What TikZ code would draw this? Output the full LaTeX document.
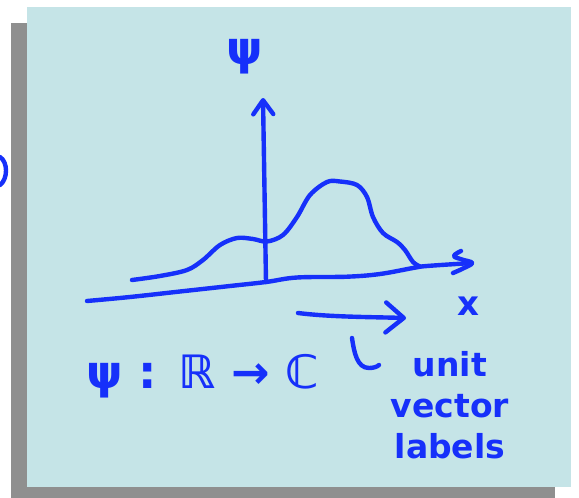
\documentclass[tikz,border=0pt]{standalone}
\usepackage{fontspec}
\usepackage{tikz}
\usetikzlibrary{arrows.meta,positioning}
\newfontfamily\penfont{DejaVu Sans}
\definecolor{penblue}   {RGB}{ 22, 48,250}
\definecolor{sheetcyan} {RGB}{197,228,231}
\definecolor{sheetshade}{RGB}{143,143,143}
\tikzset{
  ink/.style={draw=penblue,line width=4.4pt,line cap=round,line join=round},
  inkarr/.style={ink,-{Straight Barb[length=14pt,width=20pt,round]}},
  inkarrbig/.style={ink,-{Straight Barb[length=18pt,width=30pt,round]}},
  inklbl/.style={text=penblue,inner sep=0pt},
}

\begin{document}
\begin{tikzpicture}[x=1pt,y=-1pt]
\useasboundingbox (0,0) rectangle (579,498);
\fill[sheetshade] (11,23) rectangle (555,498);
\fill[sheetcyan] (27,7) rectangle (571,487);

\coordinate (origin) at (266,282);
\coordinate (psitop) at (263,98);
\coordinate (xstart) at (87,301);
\coordinate (xend)   at (472,263);
\coordinate (ustart) at (298,313);
\coordinate (uend)   at (406,318);

\draw[ink] (0,157) .. controls (8,162) and (8,179) .. (0,185);

% axes
\draw[inkarr] (origin) -- (psitop);
\draw[ink] plot[smooth,tension=0.6] coordinates {(xstart) (130,297) (180,291.5)
  (230,286) (origin) (297,277.5) (347,276.7) (380,274) (413,268) (427,266) (xend)};
\draw[ink] plot[smooth,tension=0.7] coordinates {(461,251) (454,256) (462,259.5)
  (xend) (463,268.5) (453,273)};

% wave
\draw[ink] plot[smooth,tension=0.55] coordinates {(132,280) (160,276) (187,270)
  (203,260) (220,245) (237,238) (253,239) (267,241.5) (283,235) (297,217)
  (310,195) (327,182) (340,181.5) (357,185) (367,197) (373,217) (383,233)
  (397,242) (405,250) (413,262) (420,266.5)};

% unit vector
\draw[inkarrbig] (ustart) .. controls (330,317) and (370,317) .. (uend);
\draw[ink] (352,338) .. controls (354,352) and (357,368) .. (369,368)
  .. controls (373,368) and (377,367) .. (379,365);

\node[inklbl,font=\penfont\bfseries\fontsize{46}{54}\selectfont] (psilbl) at (245,57) {ψ};
\node[inklbl,font=\penfont\bfseries\fontsize{34}{42}\selectfont] (xlbl) at (468,306) {x};
\node[inklbl,anchor=base,font=\penfont\bfseries\fontsize{46}{56}\selectfont] (maplbl)
  at (203,388) {ψ : ℝ → ℂ};
\node[inklbl,align=center,font=\penfont\bfseries\fontsize{33}{41}\selectfont] (unitlbl)
  at (450,405) {unit\\vector\\labels};
\end{tikzpicture}
\end{document}
